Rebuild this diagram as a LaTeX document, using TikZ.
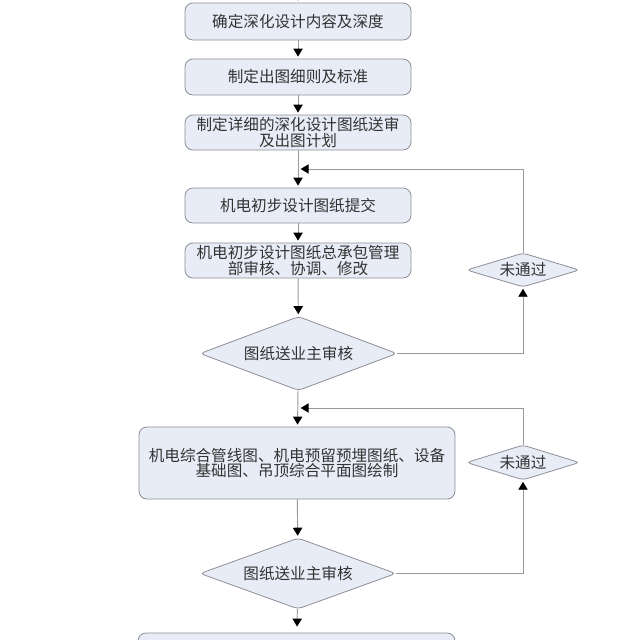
\documentclass[tikz,border=0pt]{standalone}
\usepackage{fontspec}
\newfontfamily\cjk{Noto Sans CJK SC}
\usetikzlibrary{shapes.geometric,arrows.meta}
\definecolor{boxfill}{HTML}{E8ECF6}
\definecolor{boxline}{HTML}{8E8E98}
\definecolor{conn}{HTML}{9A9A9A}
\definecolor{txt}{HTML}{333333}
\begin{document}
\begin{tikzpicture}[x=0.75pt,y=-0.75pt,
 every node/.style={font=\cjk\fontsize{11.7pt}{11.6pt}\selectfont, text=txt},
 proc/.style={draw=boxline, fill=boxfill, rounded corners=6pt, align=center, inner sep=0pt, line width=0.6pt},
 dec/.style={diamond, draw=boxline, fill=boxfill, rounded corners=3pt, inner sep=0pt, align=center, line width=0.6pt},
 flow/.style={draw=conn, line width=0.7pt, -{Triangle[length=6pt,width=7pt,fill=black,color=black]}}]
\useasboundingbox (0,0) rectangle (640,640);
\clip (0,0) rectangle (640,640);
\fill[white] (0,0) rectangle (640,640);

\node[proc, minimum width=226*0.75pt, minimum height=37*0.75pt] (b1) at (298,21.5) {确定深化设计内容及深度};
\node[proc, minimum width=226*0.75pt, minimum height=36*0.75pt] (b2) at (298,77) {制定出图细则及标准};
\node[proc, minimum width=226*0.75pt, minimum height=35*0.75pt] (b3) at (298,132.5) {制定详细的深化设计图纸送审\\及出图计划};
\node[proc, minimum width=226*0.75pt, minimum height=35*0.75pt] (b4) at (298,205.5) {机电初步设计图纸提交};
\node[proc, minimum width=226*0.75pt, minimum height=35*0.75pt] (b5) at (298,260.5) {机电初步设计图纸总承包管理\\部审核、协调、修改};
\node[dec, aspect=2.66, minimum width=197*0.75pt, minimum height=74*0.75pt] (d1) at (298.5,353.5) {图纸送业主审核};
\node[dec, aspect=3.3, minimum width=113*0.75pt, minimum height=34*0.75pt] (n1) at (523,270) {未通过};
\node[proc, minimum width=316*0.75pt, minimum height=72*0.75pt] (b6) at (297,463) {机电综合管线图、机电预留预埋图纸、设备\\基础图、吊顶综合平面图绘制};
\node[dec, aspect=2.76, minimum width=196*0.75pt, minimum height=71*0.75pt] (d2) at (298,573.5) {图纸送业主审核};
\node[dec, aspect=3.2, minimum width=113*0.75pt, minimum height=35*0.75pt] (n2) at (523,462.5) {未通过};
\node[proc, minimum width=317*0.75pt, minimum height=47*0.75pt] (b7) at (296.5,656.5) {};

\coordinate (t0) at (298,-10);
\coordinate (m1) at (298,169);
\coordinate (m2) at (298,408);

\draw[flow, shorten >=1.5pt] (t0) -- (b1.north);
\draw[flow, shorten >=1.5pt] (b1) -- (b2);
\draw[flow, shorten >=1.5pt] (b2) -- (b3);
\draw[flow, shorten >=1.5pt] (b3) -- (b4);
\draw[flow, shorten >=1.5pt] (b4) -- (b5);
\draw[flow, shorten >=1.5pt] (b5) -- (d1);
\draw[flow, shorten >=1.5pt] (d1) -- (b6);
\draw[flow, shorten >=1.5pt] (b6) -- (d2);
\draw[flow, shorten >=4.5pt] (d2) -- (b7);

\draw[flow, shorten >=1pt] (d1.east) -| (n1.south);
\draw[flow, shorten >=2pt] (n1.north) |- (m1);
\draw[flow, shorten >=1pt] (d2.east) -| (n2.south);
\draw[flow, shorten >=2pt] (n2.north) |- (m2);
\end{tikzpicture}
\end{document}
